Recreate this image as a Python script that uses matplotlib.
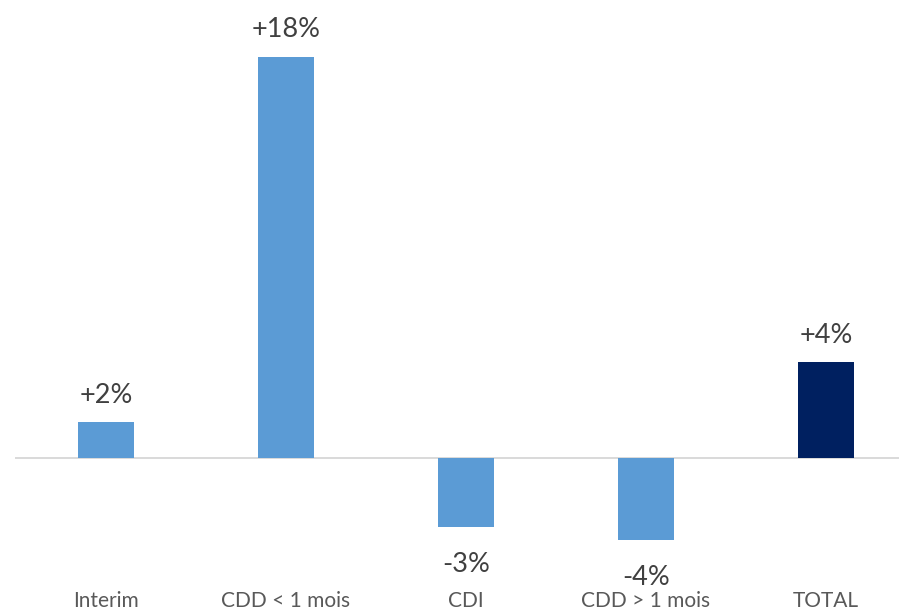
import matplotlib
matplotlib.use("Agg")
import matplotlib.pyplot as plt

categories = ["Interim", "CDD < 1 mois", "CDI", "CDD > 1 mois", "TOTAL"]
values = [1.6, 18.0, -3.1, -3.7, 4.3]
value_labels = ["+2%", "+18%", "-3%", "-4%", "+4%"]

LIGHT = "#5B9BD5"
DARK = "#002060"
colors = [LIGHT, LIGHT, LIGHT, LIGHT, DARK]

plt.rcParams["font.family"] = ["Lato", "DejaVu Sans"]

W, H = 899, 611
fig = plt.figure(figsize=(W / 100, H / 100), dpi=100)
ax = fig.add_axes([0, 0, 1, 1])

x = list(range(len(categories)))
ax.bar(x, values, width=0.31, color=colors, zorder=2)

# pixel layout: bar centres at 106 + 180*i, baseline at y=458, 22.28 px per %
ppu = 22.28
x0 = -106 / 180
x1 = (W - 106) / 180
ax.set_xlim(x0, x1)
ax.set_ylim(-(H - 458) / ppu, 458 / ppu)
ax.hlines(0, (15 - 106) / 180, x1, color="#D9D9D9", lw=1.4, zorder=1)

for xi, v, lab in zip(x, values, value_labels):
    if v >= 0:
        ax.text(xi, v + 27 / ppu, lab, ha="center", va="center", fontsize=19.5, color="#404040")
    else:
        ax.text(xi, v - 37 / ppu, lab, ha="center", va="center", fontsize=19.5, color="#404040")

for xi, c in zip(x, categories):
    ax.text(xi, -(601 - 458) / ppu, c, ha="center", va="center", fontsize=15, color="#595959")

ax.axis("off")
fig.savefig("out.png", dpi=100)
